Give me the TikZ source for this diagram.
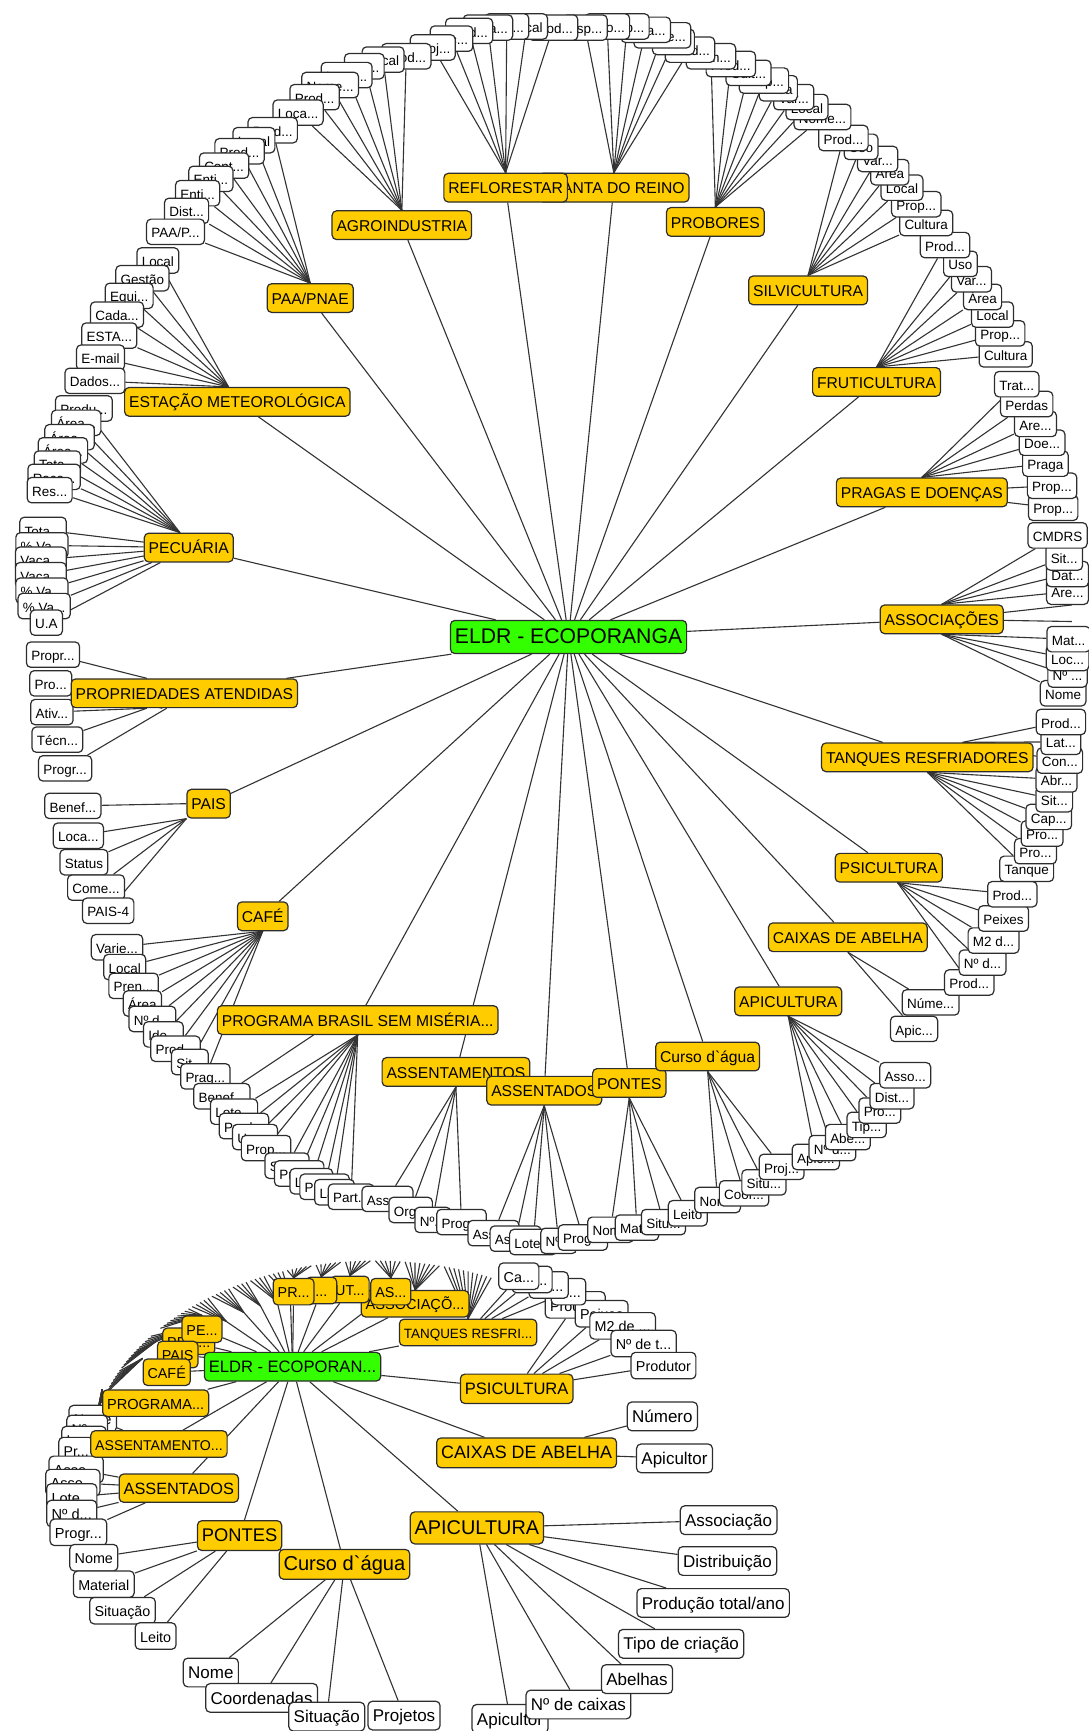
\documentclass[tikz,border=0pt]{standalone}
\usepackage{fontspec}
\setmainfont{Liberation Sans}
\definecolor{topicorange}{RGB}{255,204,0}
\definecolor{rootgreen}{RGB}{51,255,0}
\definecolor{boxline}{RGB}{45,45,45}
\pgfdeclarelayer{bg}
\pgfsetlayers{bg,main}
\tikzset{fs/.style={font=\fontsize{#1}{#1}\selectfont}}

\begin{document}
\begin{tikzpicture}[x=0.5pt,y=-0.5pt]
\tikzstyle{leaf}=[draw=boxline,fill=white,rounded corners=2pt,line width=0.55pt,inner xsep=2.2pt,inner ysep=0pt,minimum height=11.5pt,text height=1.45ex,text depth=0.4ex,fs=6.1]
\tikzstyle{topic}=[leaf,fill=topicorange,inner xsep=2pt,minimum height=13pt,fs=7.1]
\tikzstyle{root}=[topic,fill=rootgreen,minimum height=15pt,fs=9.6]
\tikzstyle{link}=[line width=0.5pt,draw=black!80]

\useasboundingbox (0,0) rectangle (986,1568);

% ---------------- upper graph: leaves ----------------
\node[leaf] (pais-1) at (66,730) {Benef...};
\node[leaf] (pais-2) at (71,757) {Loca...};
\node[leaf] (pais-3) at (76,781) {Status};
\node[leaf] (pais-4) at (87,804) {Come...};
\node[leaf] (pais-5) at (98,825) {PAIS-4};

\node[leaf] (cafe-1) at (106,858) {Varie...};
\node[leaf] (cafe-2) at (113,876) {Local};
\node[leaf] (cafe-3) at (121,893) {Pren...};
\node[leaf] (cafe-4) at (129,909) {Área};
\node[leaf] (cafe-5) at (138,923) {Nº d...};
\node[leaf] (cafe-6) at (148,937) {Ide...};
\node[leaf] (cafe-7) at (159,950) {Prod...};
\node[leaf] (cafe-8) at (172,962) {Sit...};
\node[leaf] (cafe-9) at (186,975) {Prag...};

\node[leaf] (prog-1) at (201,993) {Benef...};
\node[leaf] (prog-2) at (212,1007) {Lote...};
\node[leaf] (prog-3) at (221,1020) {Prod...};
\node[leaf] (prog-4) at (231,1030) {Uso...};
\node[leaf] (prog-5) at (241,1040) {Prop...};
\node[leaf] (prog-6) at (260,1056) {Situ...};
\node[leaf] (prog-7) at (271,1063) {Prod...};
\node[leaf] (prog-8) at (282,1070) {Loc...};
\node[leaf] (prog-9) at (294,1075) {Prop...};
\node[leaf] (prog-10) at (303,1080) {Lat...};
\node[leaf] (prog-11) at (318,1084) {Part...};

\node[leaf] (assm-1) at (351,1086) {Asso...};
\node[leaf] (assm-2) at (372,1096) {Org...};
\node[leaf] (assm-3) at (392,1105) {Nº...};
\node[leaf] (assm-4) at (418,1107) {Prog...};

\node[leaf] (assd-1) at (447,1117) {Asse...};
\node[leaf] (assd-2) at (467,1122) {Asse...};
\node[leaf] (assd-3) at (483,1125) {Lote...};
\node[leaf] (assd-4) at (506,1124) {Nº...};
\node[leaf] (assd-5) at (528,1121) {Prog...};

\node[leaf] (pont-1) at (553,1114) {Nome};
\node[leaf] (pont-2) at (577,1112) {Mat...};
\node[leaf] (pont-3) at (601,1107) {Situ...};
\node[leaf] (pont-4) at (623,1099) {Leito};

\node[leaf] (curso-1) at (650,1087) {Nome};
\node[leaf] (curso-2) at (674,1081) {Coor...};
\node[leaf] (curso-3) at (692,1071) {Situ...};
\node[leaf] (curso-4) at (708,1057) {Proj...};

\node[leaf] (apic-1) at (739,1048) {Apic...};
\node[leaf] (apic-2) at (754,1040) {Nº d...};
\node[leaf] (apic-3) at (768,1030) {Abe...};
\node[leaf] (apic-4) at (785,1019) {Tip...};
\node[leaf] (apic-5) at (797,1006) {Pro...};
\node[leaf] (apic-6) at (808,993) {Dist...};
\node[leaf] (apic-7) at (820,974) {Asso...};

\node[leaf] (caix-1) at (828,932) {Apic...};
\node[leaf] (caix-2) at (843,908) {Núme...};

\node[leaf] (psic-1) at (878,890) {Prod...};
\node[leaf] (psic-2) at (890,872) {Nº d...};
\node[leaf] (psic-3) at (900,852) {M2 d...};
\node[leaf] (psic-4) at (909,832) {Peixes};
\node[leaf] (psic-5) at (917,810) {Prod...};

\node[leaf] (tanq-1) at (930,787) {Tanque};
\node[leaf] (tanq-2) at (938,771) {Pro...};
\node[leaf] (tanq-3) at (944,755) {Pro...};
\node[leaf] (tanq-4) at (950,740) {Cap...};
\node[leaf] (tanq-5) at (955,724) {Sit...};
\node[leaf] (tanq-6) at (957,706) {Abr...};
\node[leaf] (tanq-7) at (960,689) {Con...};
\node[leaf] (tanq-8) at (961,672) {Lat...};
\node[leaf] (tanq-9) at (961,654) {Prod...};

\node[leaf] (asso-1) at (963,628) {Nome};
\node[leaf] (asso-2) at (967,611) {Nº ...};
\node[leaf] (asso-3) at (967,596) {Loc...};
\node[leaf] (asso-4) at (968,579) {Mat...};
\coordinate (asso-e1) at (971,563);
\coordinate (asso-e2) at (971,548);
\node[leaf] (asso-5) at (967,536) {Are...};
\node[leaf] (asso-6) at (967,520) {Dat...};
\node[leaf] (asso-7) at (964,505) {Sit...};
\node[leaf] (asso-8) at (958,485) {CMDRS};

\node[leaf] (prag-1) at (954,460) {Prop...};
\node[leaf] (prag-2) at (953,440) {Prop...};
\node[leaf] (prag-3) at (947,420) {Praga};
\node[leaf] (prag-4) at (944,401) {Doe...};
\node[leaf] (prag-5) at (938,384) {Are...};
\node[leaf] (prag-6) at (930,366) {Perdas};
\node[leaf] (prag-7) at (921,348) {Trat...};

\node[leaf] (fruti-1) at (911,321) {Cultura};
\node[leaf] (fruti-2) at (906,302) {Prop...};
\node[leaf] (fruti-3) at (899,285) {Local};
\node[leaf] (fruti-4) at (890,269) {Área};
\node[leaf] (fruti-5) at (880,253) {Var...};
\node[leaf] (fruti-6) at (870,239) {Uso};
\node[leaf] (fruti-7) at (856,222) {Prod...};

\node[leaf] (silvi-1) at (839,202) {Cultura};
\node[leaf] (silvi-2) at (830,185) {Prop...};
\node[leaf] (silvi-3) at (817,170) {Local};
\node[leaf] (silvi-4) at (806,156) {Área};
\node[leaf] (silvi-5) at (795,144) {Var...};
\node[leaf] (silvi-6) at (780,133) {Uso};
\node[leaf] (silvi-7) at (764,125) {Prod...};

\node[leaf] (probo-1) at (745,106) {Nome...};
\node[leaf] (probo-2) at (731,97) {Local};
\node[leaf] (probo-3) at (719,88) {Var...};
\node[leaf] (probo-4) at (705,80) {Área};
\node[leaf] (probo-5) at (692,73) {Prop...};
\node[leaf] (probo-6) at (678,66) {Cult...};
\node[leaf] (probo-7) at (662,58) {Prod...};
\node[leaf] (probo-8) at (644,51) {Nom...};

\node[leaf] (planta-1) at (625,45) {Prod...};
\node[leaf] (planta-2) at (610,38) {Local};
\node[leaf] (planta-3) at (600,32) {Nome...};
\node[leaf] (planta-4) at (585,27) {Área...};
\node[leaf] (planta-5) at (568,24) {Esp...};
\node[leaf] (planta-6) at (550,24) {Uso...};
\node[leaf] (planta-7) at (530,25) {Esp...};

\node[leaf] (reflo-1) at (501,25) {Prod...};
\node[leaf] (reflo-2) at (477,24) {Local};
\node[leaf] (reflo-3) at (459,24) {Esp...};
\node[leaf] (reflo-4) at (442,25) {Área...};
\node[leaf] (reflo-5) at (425,28) {Mud...};
\node[leaf] (reflo-6) at (409,35) {Loc...};
\node[leaf] (reflo-7) at (392,43) {Proj...};

\node[leaf] (agro-1) at (368,51) {Prod...};
\node[leaf] (agro-2) at (347,54) {Local};
\node[leaf] (agro-3) at (330,60) {Lat...};
\node[leaf] (agro-4) at (314,68) {Long...};
\node[leaf] (agro-5) at (299,77) {Nome...};
\node[leaf] (agro-6) at (285,88) {Prod...};
\node[leaf] (agro-7) at (270,102) {Loca...};

\node[leaf] (paa-1) at (247,118) {Prod...};
\node[leaf] (paa-2) at (230,127) {Local};
\node[leaf] (paa-3) at (217,137) {Prod...};
\node[leaf] (paa-4) at (203,150) {Cont...};
\node[leaf] (paa-5) at (191,162) {Enti...};
\node[leaf] (paa-6) at (179,175) {Enti...};
\node[leaf] (paa-7) at (169,191) {Dist...};
\node[leaf] (paa-8) at (159,210) {PAA/P...};

\node[leaf] (est-1) at (143,236) {Local};
\node[leaf] (est-2) at (129,252) {Gestão};
\node[leaf] (est-3) at (117,268) {Equi...};
\node[leaf] (est-4) at (106,285) {Cada...};
\node[leaf] (est-5) at (99,304) {ESTA...};
\node[leaf] (est-6) at (91,324) {E-mail};
\node[leaf] (est-7) at (86,345) {Dados...};

\node[leaf] (pec-1) at (76,370) {Produ...};
\node[leaf] (pec-2) at (69,383) {Área...};
\node[leaf] (pec-3) at (63,396) {Área...};
\node[leaf] (pec-4) at (57,408) {Área...};
\node[leaf] (pec-5) at (52,420) {Tota...};
\node[leaf] (pec-6) at (49,432) {Raça...};
\node[leaf] (pec-7) at (45,444) {Res...};
\node[leaf] (pec-8) at (39,480) {Tota...};
\node[leaf] (pec-9) at (38,494) {\% Va...};
\node[leaf] (pec-10) at (37,507) {Vaca...};
\node[leaf] (pec-11) at (37,521) {Vaca...};
\node[leaf] (pec-12) at (38,535) {\% Va...};
\node[leaf] (pec-13) at (40,549) {\% Va...};
\node[leaf] (pec-14) at (42,564) {U.A};

\node[leaf] (prop-1) at (48,593) {Propr...};
\node[leaf] (prop-2) at (46,619) {Pro...};
\node[leaf] (prop-3) at (47,645) {Ativ...};
\node[leaf] (prop-4) at (52,670) {Técn...};
\node[leaf] (prop-5) at (59,696) {Progr...};

% ---------------- upper graph: topics ----------------
\node[topic] (pais) at (189,728) {PAIS};
\node[topic] (cafe) at (238,830) {CAFÉ};
\node[topic] (prog) at (324,924) {PROGRAMA BRASIL SEM MISÉRIA...};
\node[topic] (assm) at (413,971) {ASSENTAMENTOS};
\node[topic] (assd) at (493,988) {ASSENTADOS};
\node[topic] (pont) at (570,981) {PONTES};
\node[topic] (curso) at (641,957) {Curso d\textasciigrave água};
\node[topic] (apic) at (714,907) {APICULTURA};
\node[topic] (caix) at (768,849) {CAIXAS DE ABELHA};
\node[topic] (psic) at (805,786) {PSICULTURA};
\node[topic] (tanq) at (840,686) {TANQUES RESFRIADORES};
\node[topic] (asso) at (853,561) {ASSOCIAÇÕES};
\node[topic] (prag) at (835,446) {PRAGAS E DOENÇAS};
\node[topic] (fruti) at (794,346) {FRUTICULTURA};
\node[topic] (silvi) at (732,263) {SILVICULTURA};
\node[topic] (probo) at (648,201) {PROBORES};
\node[topic] (planta) at (556,170) {PLANTA DO REINO};
\node[topic] (reflo) at (458,170) {REFLORESTAR};
\node[topic] (agro) at (364,204) {AGROINDUSTRIA};
\node[topic] (paa) at (281,270) {PAA/PNAE};
\node[topic] (est) at (215,364) {ESTAÇÃO METEOROLÓGICA};
\node[topic] (pec) at (171,496) {PECUÁRIA};
\node[topic] (prop) at (167,628) {PROPRIEDADES ATENDIDAS};

\node[root] (root) at (515,577) {ELDR - ECOPORANGA};

% ---------------- lower graph: leaves ----------------
\node[leaf,fs=6.4,minimum height=12pt] (b-assm-1) at (84,1285) {Nome};
\node[leaf,fs=6.4,minimum height=12pt] (b-assm-2) at (79,1294) {Nº ...};
\node[leaf,fs=6.4,minimum height=12pt] (b-assm-3) at (76,1304) {Loc...};
\node[leaf,fs=6.4,minimum height=12pt] (b-assm-4) at (69,1314) {Pr...};

\node[leaf,fs=6.6,minimum height=12pt] (b-assd-1) at (69,1331) {Asse...};
\node[leaf,fs=6.6,minimum height=12pt] (b-assd-2) at (66,1343) {Asse...};
\node[leaf,fs=6.6,minimum height=12pt] (b-assd-3) at (65,1356) {Lote...};
\node[leaf,fs=6.6,minimum height=12pt] (b-assd-4) at (65,1371) {Nº d...};
\node[leaf,fs=6.6,minimum height=12pt] (b-assd-5) at (71,1388) {Progr...};

\node[leaf,fs=6.5,minimum height=12pt] (b-pont-1) at (85,1411) {Nome};
\node[leaf,fs=6.5,minimum height=12pt] (b-pont-2) at (94,1435) {Material};
\node[leaf,fs=6.5,minimum height=12pt] (b-pont-3) at (111,1459) {Situação};
\node[leaf,fs=6.5,minimum height=12pt] (b-pont-4) at (141,1482) {Leito};

\node[leaf,fs=7.7,minimum height=13pt] (b-curso-1) at (191,1515) {Nome};
\node[leaf,fs=7.7,minimum height=13pt] (b-curso-2) at (237,1538) {Coordenadas};
\node[leaf,fs=7.7,minimum height=13pt] (b-curso-3) at (296,1555) {Situação};
\node[leaf,fs=7.7,minimum height=13pt] (b-curso-4) at (366,1554) {Projetos};

\node[leaf,fs=7.7,minimum height=13pt] (b-apic-1) at (462,1557) {Apicultor};
\node[leaf,fs=7.7,minimum height=13pt] (b-apic-2) at (524,1544) {Nº de caixas};
\node[leaf,fs=7.7,minimum height=13pt] (b-apic-3) at (577,1521) {Abelhas};
\node[leaf,fs=7.7,minimum height=13pt] (b-apic-4) at (617,1489) {Tipo de criação};
\node[leaf,fs=7.7,minimum height=13pt] (b-apic-5) at (646,1452) {Produção total/ano};
\node[leaf,fs=7.7,minimum height=13pt] (b-apic-6) at (659,1414) {Distribuição};
\node[leaf,fs=7.7,minimum height=13pt] (b-apic-7) at (660,1377) {Associação};

\node[leaf,fs=7.7,minimum height=13pt] (b-caix-1) at (600,1283) {Número};
\node[leaf,fs=7.7,minimum height=13pt] (b-caix-2) at (611,1321) {Apicultor};

\node[leaf,fs=6.5,minimum height=12pt] (b-psic-1) at (521,1182) {Produ...};
\node[leaf,fs=6.5,minimum height=12pt] (b-psic-2) at (545,1190) {Peixes};
\node[leaf,fs=6.5,minimum height=12pt] (b-psic-3) at (564,1201) {M2 de ...};
\node[leaf,fs=6.5,minimum height=12pt] (b-psic-4) at (583,1217) {Nº de t...};
\node[leaf,fs=6.5,minimum height=12pt] (b-psic-5) at (601,1237) {Produtor};

\node[leaf,fs=6.5,minimum height=12pt] (b-tanq-1) at (515,1170) {Si...};
\node[leaf,fs=6.5,minimum height=12pt] (b-tanq-2) at (497,1164) {Ab...};
\node[leaf,fs=6.5,minimum height=12pt] (b-tanq-3) at (482,1159) {Co...};
\node[leaf,fs=6.5,minimum height=12pt] (b-tanq-4) at (470,1156) {Ca...};

% ---------------- lower graph: topics ----------------
\coordinate (b-est) at (205,1197);
\coordinate (b-paa) at (221,1189);
\coordinate (b-agro) at (236,1183);
\coordinate (b-reflo) at (251,1179);
\coordinate (b-planta) at (263,1175);

\node[topic,fs=6.5,minimum height=12pt] (b-prop) at (171,1215) {PRO...};
\node[topic,fs=6.5,minimum height=12pt] (b-pec) at (183,1204) {PE...};
\node[topic,fs=6.5,minimum height=12pt] (b-pais) at (161,1227) {PAIS};
\node[topic,fs=6.5,minimum height=12pt] (b-cafe) at (151,1243) {CAFÉ};
\node[topic,fs=6.6,minimum height=12pt] (b-prog) at (141,1271) {PROGRAMA...};
\node[topic,fs=6.4,minimum height=12pt] (b-assm) at (144,1308) {ASSENTAMENTO...};
\node[topic,fs=7.4,minimum height=12.8pt] (b-assd) at (162,1348) {ASSENTADOS};
\node[topic,fs=8.3,minimum height=13.5pt] (b-pont) at (217,1391) {PONTES};
\node[topic,fs=9.1,minimum height=13.5pt] (b-curso) at (312,1417) {Curso d\textasciigrave água};
\node[topic,fs=9,minimum height=14.5pt] (b-apic) at (432,1384) {APICULTURA};
\node[topic,fs=8.1,minimum height=13.5pt] (b-caix) at (477,1316) {CAIXAS DE ABELHA};
\node[topic,fs=7.5,minimum height=13.3pt] (b-psic) at (468,1258) {PSICULTURA};
\node[topic,fs=6.1,minimum height=12pt] (b-tanq) at (424,1207) {TANQUES RESFRI...};
\node[topic,fs=6.6,minimum height=12pt] (b-asso) at (376,1181) {ASSOCIAÇÕ...};
\node[topic,fs=6.5,minimum height=12pt] (b-prag) at (354,1170) {AS...};
\node[topic,fs=6.5,minimum height=12pt] (b-fruti) at (317,1168) {UT...};
\node[topic,fs=6.5,minimum height=12pt,minimum width=14pt] (b-silvi) at (291,1169) {...};
\node[topic,fs=6.5,minimum height=12pt] (b-probo) at (266,1170) {PR...};

\node[root,fs=7.5,minimum height=13pt] (b-root) at (265,1238) {ELDR - ECOPORAN...};

% ---------------- connectors ----------------
\begin{pgfonlayer}{bg}
\path[link]
(root) edge (asso) (root) edge (prag) (root) edge (fruti) (root) edge (silvi)
(root) edge (probo) (root) edge (planta) (root) edge (reflo) (root) edge (agro)
(root) edge (paa) (root) edge (est) (root) edge (pec) (root) edge (prop)
(root) edge (pais) (root) edge (cafe) (root) edge (prog) (root) edge (assm)
(root) edge (assd) (root) edge (pont) (root) edge (curso) (root) edge (apic)
(root) edge (caix) (root) edge (psic) (root) edge (tanq)
;
\path[link]
(pais-1) edge (pais.west) (pais-2) edge (pais.south west) (pais-3) edge (pais.south west)
(pais-4) edge (pais.south west) (pais-5) edge (pais.south west)
(cafe-1) edge (cafe.south) (cafe-2) edge (cafe.south) (cafe-3) edge (cafe.south)
(cafe-4) edge (cafe.south) (cafe-5) edge (cafe.south) (cafe-6) edge (cafe.south)
(cafe-7) edge (cafe.south) (cafe-8) edge (cafe.south) (cafe-9) edge (cafe.south)
(prog-1) edge ([xshift=-20pt]prog.south) (prog-2) edge (prog.south) (prog-3) edge (prog.south)
(prog-4) edge (prog.south) (prog-5) edge (prog.south) (prog-6) edge (prog.south)
(prog-7) edge (prog.south) (prog-8) edge (prog.south) (prog-9) edge (prog.south)
(prog-10) edge (prog.south) (prog-11) edge (prog.south)
(assm-1) edge (assm.south) (assm-2) edge (assm.south) (assm-3) edge (assm.south) (assm-4) edge (assm.south)
(assd-1) edge (assd.south) (assd-2) edge (assd.south) (assd-3) edge (assd.south)
(assd-4) edge (assd.south) (assd-5) edge (assd.south)
(pont-1) edge (pont.south) (pont-2) edge (pont.south) (pont-3) edge (pont.south) (pont-4) edge (pont.south)
(curso-1) edge (curso.south) (curso-2) edge (curso.south) (curso-3) edge (curso.south) (curso-4) edge (curso.south)
(apic-1) edge (apic.south) (apic-2) edge (apic.south) (apic-3) edge (apic.south)
(apic-4) edge (apic.south) (apic-5) edge (apic.south) (apic-6) edge (apic.south) (apic-7) edge (apic.south)
(caix-1) edge (caix.south) (caix-2) edge (caix.south)
(psic-1) edge ([xshift=4pt]psic.south) (psic-2) edge ([xshift=4pt]psic.south) (psic-3) edge ([xshift=4pt]psic.south)
(psic-4) edge ([xshift=4pt]psic.south) (psic-5) edge ([xshift=4pt]psic.south)
(tanq-1) edge (tanq.south) (tanq-2) edge (tanq.south) (tanq-3) edge (tanq.south)
(tanq-4) edge (tanq.south) (tanq-5) edge (tanq.south) (tanq-6) edge (tanq.south)
(tanq-7) edge (tanq.23) (tanq-8) edge (tanq.23) (tanq-9) edge (tanq.23)
(asso-1) edge (asso.south) (asso-2) edge (asso.south) (asso-3) edge (asso.south) (asso-4) edge (asso.south)
(asso) edge (asso-e1) (asso) edge (asso-e2)
(asso-5) edge (asso.north) (asso-6) edge (asso.north) (asso-7) edge (asso.north) (asso-8) edge (asso.north)
(prag-1) edge (prag) (prag-2) edge (prag) (prag-3) edge (prag.north)
(prag-4) edge (prag.north) (prag-5) edge (prag.north) (prag-6) edge (prag.north) (prag-7) edge (prag.north)
(fruti-1) edge (fruti.north) (fruti-2) edge (fruti.north) (fruti-3) edge (fruti.north)
(fruti-4) edge (fruti.north) (fruti-5) edge (fruti.north) (fruti-6) edge (fruti.north) (fruti-7) edge (fruti.north)
(silvi-1) edge (silvi.north) (silvi-2) edge (silvi.north) (silvi-3) edge (silvi.north)
(silvi-4) edge (silvi.north) (silvi-5) edge (silvi.north) (silvi-6) edge (silvi.north) (silvi-7) edge (silvi.north)
(probo-1) edge (probo.north) (probo-2) edge (probo.north) (probo-3) edge (probo.north) (probo-4) edge (probo.north)
(probo-5) edge (probo.north) (probo-6) edge (probo.north) (probo-7) edge (probo.north) (probo-8) edge (probo.north)
(planta-1) edge (planta.north) (planta-2) edge (planta.north) (planta-3) edge (planta.north)
(planta-4) edge (planta.north) (planta-5) edge (planta.north) (planta-6) edge (planta.north) (planta-7) edge (planta.north)
(reflo-1) edge (reflo.north) (reflo-2) edge (reflo.north) (reflo-3) edge (reflo.north)
(reflo-4) edge (reflo.north) (reflo-5) edge (reflo.north) (reflo-6) edge (reflo.north) (reflo-7) edge (reflo.north)
(agro-1) edge (agro.north) (agro-2) edge (agro.north) (agro-3) edge (agro.north)
(agro-4) edge (agro.north) (agro-5) edge (agro.north) (agro-6) edge (agro.north) (agro-7) edge (agro.north)
(paa-1) edge (paa.north) (paa-2) edge (paa.north) (paa-3) edge (paa.north) (paa-4) edge (paa.north)
(paa-5) edge (paa.north) (paa-6) edge (paa.north) (paa-7) edge (paa.north) (paa-8) edge (paa.north)
(est-1) edge ([xshift=-4pt]est.north) (est-2) edge ([xshift=-4pt]est.north) (est-3) edge ([xshift=-4pt]est.north)
(est-4) edge ([xshift=-4pt]est.north) (est-5) edge ([xshift=-4pt]est.north) (est-6) edge ([xshift=-4pt]est.north)
(est-7) edge ([xshift=-4pt]est.north)
(pec-1) edge ([xshift=-4pt]pec.north) (pec-2) edge ([xshift=-4pt]pec.north) (pec-3) edge ([xshift=-4pt]pec.north)
(pec-4) edge ([xshift=-4pt]pec.north) (pec-5) edge ([xshift=-4pt]pec.north) (pec-6) edge ([xshift=-4pt]pec.north)
(pec-7) edge ([xshift=-4pt]pec.north)
(pec-8) edge (pec) (pec-9) edge (pec) (pec-10) edge (pec) (pec-11) edge (pec)
(pec-12) edge (pec) (pec-13) edge (pec) (pec-14) edge (pec)
(prop-1) edge ([xshift=-17pt]prop.north) (prop-2) edge ([xshift=-10pt]prop.south)
(prop-3) edge ([xshift=-17pt]prop.south) (prop-4) edge ([xshift=-17pt]prop.south) (prop-5) edge ([xshift=-8pt]prop.south)
;
% lower graph
\path[link]
(b-root) edge (b-prop) (b-root) edge (b-pec) (b-root) edge (b-pais) (b-root) edge (b-cafe)
(b-root) edge (b-prog) (b-root) edge (b-assm) (b-root) edge (b-assd) (b-root) edge (b-pont)
(b-root) edge (b-curso) (b-root) edge (b-apic) (b-root) edge (b-caix) (b-root) edge (b-psic)
(b-root) edge (b-tanq) (b-root) edge (b-asso) (b-root) edge (b-prag) (b-root) edge (b-fruti)
(b-root) edge (b-silvi) (b-root) edge (b-probo)
(b-root) edge (b-est) (b-root) edge (b-paa) (b-root) edge (b-agro) (b-root) edge (b-reflo) (b-root) edge (b-planta)
(b-assm-1) edge (b-assm) (b-assm-2) edge (b-assm) (b-assm-3) edge (b-assm) (b-assm-4) edge (b-assm)
(b-assd-1) edge (b-assd) (b-assd-2) edge (b-assd) (b-assd-3) edge (b-assd) (b-assd-4) edge (b-assd) (b-assd-5) edge (b-assd)
(b-pont-1) edge (b-pont) (b-pont-2) edge (b-pont) (b-pont-3) edge (b-pont) (b-pont-4) edge (b-pont)
(b-curso-1) edge (b-curso) (b-curso-2) edge (b-curso) (b-curso-3) edge (b-curso) (b-curso-4) edge (b-curso)
(b-apic-1) edge (b-apic) (b-apic-2) edge (b-apic) (b-apic-3) edge (b-apic) (b-apic-4) edge (b-apic)
(b-apic-5) edge (b-apic) (b-apic-6) edge (b-apic) (b-apic-7) edge (b-apic)
(b-caix-1) edge (b-caix) (b-caix-2) edge (b-caix)
(b-psic-1) edge (b-psic) (b-psic-2) edge (b-psic) (b-psic-3) edge (b-psic) (b-psic-4) edge (b-psic) (b-psic-5) edge (b-psic)
(b-tanq-1) edge (b-tanq) (b-tanq-2) edge (b-tanq) (b-tanq-3) edge (b-tanq) (b-tanq-4) edge (b-tanq)
;
% collapsed leaves along the outer rim of the lower graph
\foreach \p/\a/\b in {b-prog.north west/163/170,b-cafe.north west/154/161,b-pais.north west/148/153,b-prop.north/142/147,b-pec.north/131/139,b-est/126/130,b-paa/121/125,b-agro/117/120,b-reflo/113/116,b-planta/109/112,b-probo.north/103/108,b-silvi.north/97/102,b-fruti.north/91/96,b-prag.north/85/90,b-asso.north/77/84,b-tanq.north/66/76}
  \foreach \t in {\a,...,\b}
    \draw[link] (\p) -- ({340+258*cos(\t)},{1320-178*sin(\t)});
\end{pgfonlayer}
\end{tikzpicture}
\end{document}
